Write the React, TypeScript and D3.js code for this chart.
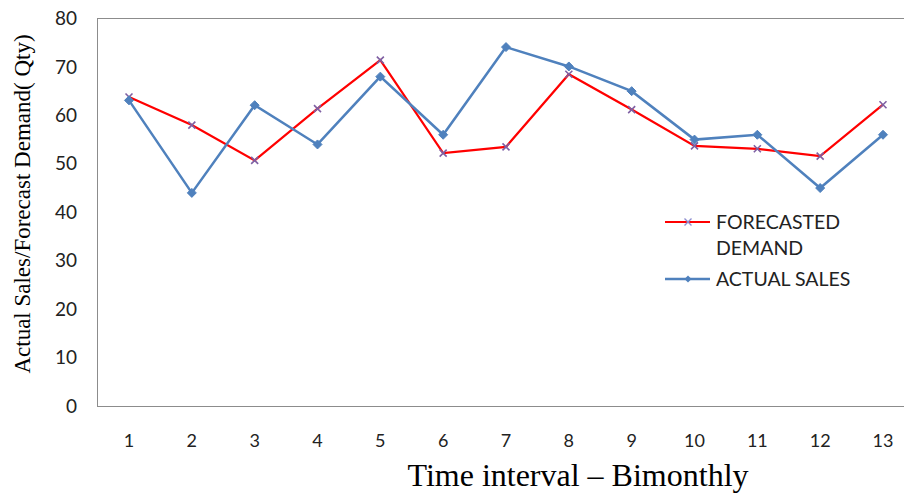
import React from "react";
import * as d3 from "d3";

const categories = ["1", "2", "3", "4", "5", "6", "7", "8", "9", "10", "11", "12", "13"];
const forecastedDemand = [63.8, 58.0, 50.7, 61.4, 71.4, 52.2, 53.5, 68.5, 61.2, 53.7, 53.1, 51.6, 62.2];
const actualSales = [63.1, 44.0, 62.1, 54.0, 68.0, 56.0, 74.1, 70.1, 65.0, 55.0, 56.0, 45.0, 56.0];
const yTicks = [0, 10, 20, 30, 40, 50, 60, 70, 80];

const W = 904;
const H = 494;
const plotLeft = 97;
const plotRight = 914;
const plotTop = 18;
const plotBottom = 406;

export default function App() {
  const x = d3.scalePoint<string>().domain(categories).range([129, 883]);
  const y = d3.scaleLinear().domain([0, 80]).range([plotBottom, plotTop + 0.5]);

  const line = d3
    .line<number>()
    .x((_, i) => x(categories[i]) as number)
    .y((d) => y(d));

  const labelFont = "Lato, 'Open Sans', sans-serif";
  const serif = "'Liberation Serif', 'Times New Roman', serif";

  const diamond = (cx: number, cy: number, r: number) =>
    `M${cx},${cy - r}L${cx + r},${cy}L${cx},${cy + r}L${cx - r},${cy}Z`;
  const cross = (cx: number, cy: number, r: number) =>
    `M${cx - r},${cy - r}L${cx + r},${cy + r}M${cx - r},${cy + r}L${cx + r},${cy - r}`;

  return (
    <svg
      width={W}
      height={H}
      style={{ position: "absolute", left: 0, top: 0, background: "#fff" }}
    >
      <rect x={0} y={0} width={W} height={H} fill="#fff" />
      {/* plot border */}
      <rect
        x={plotLeft + 0.5}
        y={plotTop + 0.5}
        width={plotRight - plotLeft}
        height={plotBottom - plotTop}
        fill="none"
        stroke="#8c8c8c"
        strokeWidth={1}
      />
      {/* y tick labels */}
      {yTicks.map((t) => (
        <text
          key={t}
          x={77}
          y={y(t)}
          dy="0.35em"
          textAnchor="end"
          fontFamily={labelFont}
          fontSize={19}
          fill="#222"
        >
          {t}
        </text>
      ))}
      {/* x tick labels */}
      {categories.map((c) => (
        <text
          key={c}
          x={x(c)}
          y={441}
          dy="0.35em"
          textAnchor="middle"
          fontFamily={labelFont}
          fontSize={18}
          fill="#222"
        >
          {c}
        </text>
      ))}
      {/* axis titles */}
      <text
        x={578}
        y={486}
        textAnchor="middle"
        fontFamily={serif}
        fontSize={32}
        fill="#000"
      >
        Time interval – Bimonthly
      </text>
      <text
        transform={`translate(30,${204}) rotate(-90)`}
        textAnchor="middle"
        fontFamily={serif}
        fontSize={23}
        fill="#000"
        style={{ whiteSpace: "pre" }}
      >
        {"Actual Sales/Forecast Demand( Qty)"}
      </text>
      {/* lines */}
      <path d={line(forecastedDemand) || ""} fill="none" stroke="#ff0000" strokeWidth={2.2} />
      <path d={line(actualSales) || ""} fill="none" stroke="#4f81bd" strokeWidth={2.5} />
      {forecastedDemand.map((v, i) => (
        <path
          key={"f" + i}
          d={cross(x(categories[i]) as number, y(v), 3.5)}
          stroke="#7e5fa3"
          strokeWidth={1.6}
          fill="none"
        />
      ))}
      {actualSales.map((v, i) => (
        <path
          key={"a" + i}
          d={diamond(x(categories[i]) as number, y(v), 4.5)}
          fill="#4f81bd"
          stroke="#4f81bd"
          strokeWidth={1}
        />
      ))}
      {/* legend */}
      <line x1={665} x2={710} y1={222} y2={222} stroke="#ff0000" strokeWidth={2.2} />
      <path d={cross(688, 222, 3.5)} stroke="#8f8fd0" strokeWidth={1.4} fill="none" />
      <text x={716} y={222} dy="0.35em" fontFamily={labelFont} fontSize={19.5} fill="#222">
        FORECASTED
      </text>
      <text x={716} y={248} dy="0.35em" fontFamily={labelFont} fontSize={19.5} fill="#222">
        DEMAND
      </text>
      <line x1={665} x2={710} y1={279} y2={279} stroke="#4f81bd" strokeWidth={2.5} />
      <path d={diamond(688, 279, 3.5)} fill="#4f81bd" />
      <text x={716} y={279} dy="0.35em" fontFamily={labelFont} fontSize={19.5} fill="#222">
        ACTUAL SALES
      </text>
    </svg>
  );
}
